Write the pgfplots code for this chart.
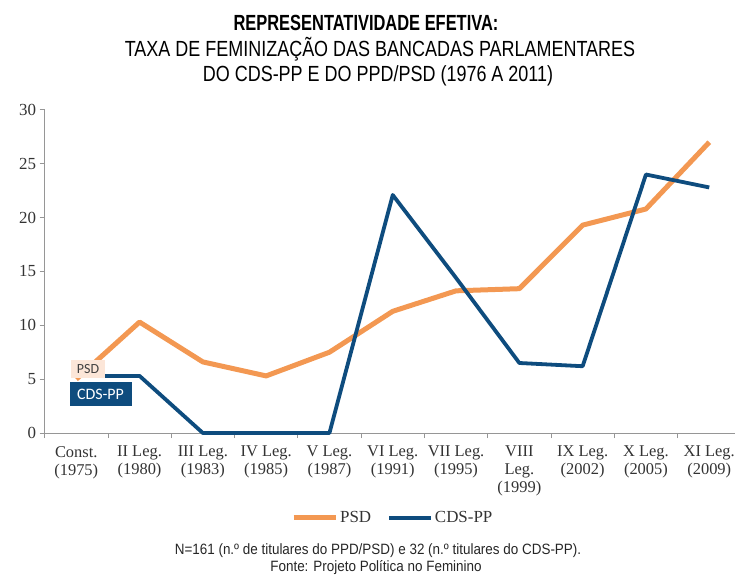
\documentclass[border=0pt]{standalone}
\usepackage{fontspec}
\setmainfont{Liberation Serif}
\newfontfamily\condsans[FakeStretch=0.82]{Liberation Sans}
\newfontfamily\condbold[FakeStretch=0.75]{Liberation Sans Bold}
\newfontfamily\footsans[FakeStretch=0.9]{Liberation Sans}
\newfontfamily\boxfont{Carlito}
\usepackage{pgfplots}
\pgfplotsset{compat=1.18}
\definecolor{psd}{RGB}{243,152,82}
\definecolor{cds}{RGB}{14,76,126}
\definecolor{psdbox}{RGB}{252,230,216}
\definecolor{axgray}{RGB}{150,150,150}
\begin{document}
\begin{tikzpicture}
\useasboundingbox (0bp,0bp) rectangle (735bp,578bp);
\begin{axis}[
  at={(44.6bp,145bp)}, anchor=south west,
  x=63.3bp, y=10.77bp,
  xmin=-0.5, xmax=10.5, ymin=0, ymax=30,
  axis lines*=left,
  axis line style={draw=axgray, line width=0.8bp},
  clip=false,
  tick align=outside,
  xtick={0,...,10},
  major x tick style={draw=none},
  minor xtick={-0.5,0.5,...,10.5},
  minor tick length=5bp,
  major tick length=5bp,
  tick style={draw=axgray, line width=0.8bp},
  ytick={0,5,...,30},
  xticklabels={{Const.\\(1975)},{II Leg.\\(1980)},{III Leg.\\(1983)},{IV Leg.\\(1985)},{V Leg.\\(1987)},{VI Leg.\\(1991)},{VII Leg.\\(1995)},{VIII\\Leg.\\(1999)},{IX Leg.\\(2002)},{X Leg.\\(2005)},{XI Leg.\\(2009)}},
  xticklabel style={font=\fontsize{16.5}{18}\selectfont, align=center, text=black!80, inner sep=0pt, yshift=-8bp},
  yticklabel style={font=\fontsize{17}{17}\selectfont, text=black!80},
  /pgf/number format/assume math mode=true,
  legend style={at={(0.5,-0.263)}, anchor=center, legend columns=2, draw=none, fill=none,
    font=\fontsize{17}{17}\selectfont, text=black!80,
    /tikz/every even column/.append style={column sep=14bp}},
  legend image code/.code={\draw[#1] (0bp,0bp) -- (42bp,0bp);},
]
\addplot[psd, line width=5bp, line join=round] coordinates {
(0,5.0) (1,10.3) (2,6.6) (3,5.3) (4,7.5) (5,11.3) (6,13.2) (7,13.4) (8,19.3) (9,20.8) (10,27.0)};
\addlegendentry{PSD}
\addplot[cds, line width=3.8bp, line join=round] coordinates {
(0,5.3) (1,5.3) (2,0) (3,0) (4,0) (5,22.1) (6,14.4) (7,6.5) (8,6.2) (9,24.0) (10,22.8)};
\addlegendentry{CDS-PP}
\end{axis}
\node[fill=psdbox, text=black!75, font=\boxfont\fontsize{14}{14}\selectfont, minimum width=34bp, minimum height=18bp, inner sep=1bp] at (88bp,209bp) {PSD};
\node[fill=cds, text=white, font=\boxfont\fontsize{16}{16}\selectfont, minimum width=62bp, minimum height=24bp, inner sep=1bp] at (100.5bp,183.5bp) {CDS-PP};
\node[anchor=base, font=\condbold\fontsize{22}{22}\selectfont] at (366bp,547bp) {REPRESENTATIVIDADE EFETIVA:};
\node[anchor=base, font=\condsans\fontsize{22}{22}\selectfont] at (380bp,521bp) {TAXA DE FEMINIZAÇÃO DAS BANCADAS PARLAMENTARES};
\node[anchor=base, font=\condsans\fontsize{22}{22}\selectfont] at (378bp,496bp) {DO CDS-PP E DO PPD/PSD (1976 A 2011)};
\node[anchor=base, font=\footsans\fontsize{15}{15}\selectfont, text=black!85] at (378bp,24bp) {N=161 (n.º de titulares do PPD/PSD) e 32 (n.º titulares do CDS-PP).};
\node[anchor=base, font=\footsans\fontsize{15}{15}\selectfont, text=black!85] at (376bp,7bp) {Fonte: Projeto Política no Feminino};
\end{tikzpicture}
\end{document}
